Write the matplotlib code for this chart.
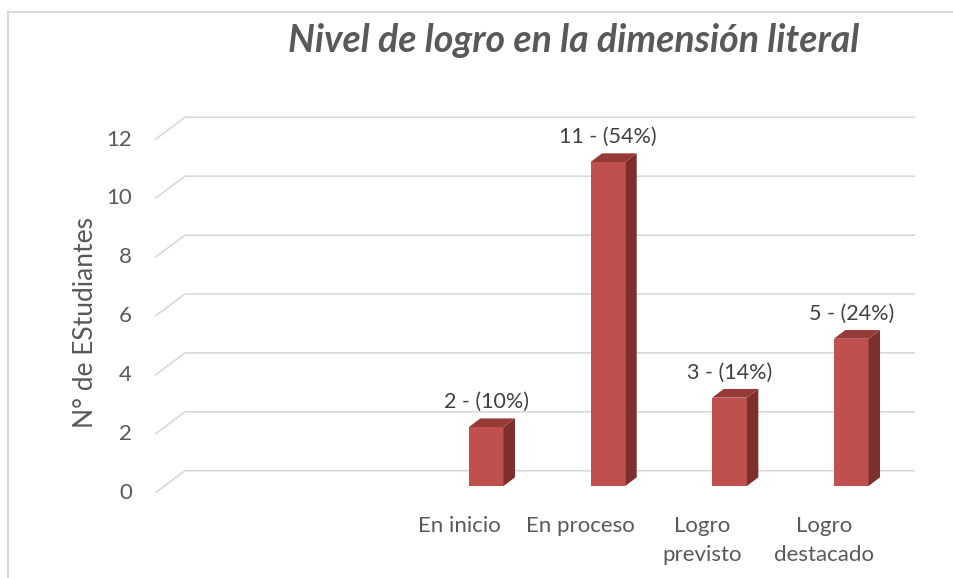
import matplotlib
matplotlib.use("Agg")
import matplotlib.pyplot as plt
from matplotlib.patches import Polygon
from matplotlib.lines import Line2D

# ---- data ----
categories = ["", "", "En inicio", "En proceso", "Logro\nprevisto", "Logro\ndestacado"]
values = [None, None, 2, 11, 3, 5]
percents = ["", "", "10%", "54%", "14%", "24%"]
yticks = [0, 2, 4, 6, 8, 10, 12]
title = "Nivel de logro en la dimensión literal"
ylabel = "N° de EStudiantes"

# ---- style ----
FONT = ["Lato", "DejaVu Sans"]
plt.rcParams['font.family'] = FONT
W, H = 954, 578
fig = plt.figure(figsize=(W / 100, H / 100), dpi=100)
fig.patch.set_facecolor("white")

n = len(categories)
wall_dx = 0.2465      # depth offset of back wall, category units
wall_dy = 0.757       # depth offset of back wall, value units
ymax = yticks[-1]

left_px, right_px, bot_px, top_px = 155, 915, 493, 117.3
ax = fig.add_axes([left_px / W, (H - bot_px) / H, (right_px - left_px) / W, (bot_px - top_px) / H])
ax.set_xlim(0, n + wall_dx)
ax.set_ylim(0, ymax + wall_dy)
ax.axis("off")

grid_c = "#d9d9d9"
for t in yticks:
    ax.plot([0, wall_dx, n + wall_dx], [t, t + wall_dy, t + wall_dy],
            color=grid_c, lw=1.2, zorder=1, clip_on=False, solid_capstyle="butt")
    ax.text(-0.189, t, str(t), ha="right", va="center", fontsize=16,
            color="#595959", clip_on=False)

# bars
front_c, side_c, top_c = "#C0504D", "#7D2F2D", "#963A38"
bw = 0.285
f_dx, f_dy = 0.0764, 0.2377   # position of front face within the floor depth
b_dx, b_dy = 0.0945, 0.295    # bar depth
shift = 0.222
for i, (v, p) in enumerate(zip(values, percents)):
    if v is None:
        continue
    xc = i + 0.5 + shift
    xl, xr = xc - bw / 2, xc + bw / 2
    y0, y1 = f_dy, v + f_dy
    ax.add_patch(Polygon([(xl, y0), (xr, y0), (xr, y1), (xl, y1)], closed=True,
                         facecolor=front_c, edgecolor="none", zorder=3))
    ax.add_patch(Polygon([(xr, y0), (xr + b_dx, y0 + b_dy), (xr + b_dx, y1 + b_dy), (xr, y1)],
                         closed=True, facecolor=side_c, edgecolor="none", zorder=3))
    ax.add_patch(Polygon([(xl, y1), (xr, y1), (xr + b_dx, y1 + b_dy), (xl + b_dx, y1 + b_dy)],
                         closed=True, facecolor=top_c, edgecolor="none", zorder=3))
    ax.text(xc, y1 + b_dy + 0.55, f"{v} - ({p})", ha="center", va="center",
            fontsize=15.5, color="#404040", zorder=4, clip_on=False)

# category labels
for i, c in enumerate(categories):
    if not c:
        continue
    ax.text(i + 0.5, -0.78, c, ha="center", va="top", fontsize=16,
            color="#595959", linespacing=1.55, clip_on=False)

fig.text(86 / W, 1 - 323 / H, ylabel, rotation=90, ha="center", va="center",
         fontsize=19, color="#595959")
fig.text(574 / W, 1 - 40 / H, title, ha="center", va="center",
         fontsize=27, color="#595959", fontweight="bold", fontstyle="italic")

# chart frame (left and top edges visible)
fig.add_artist(Line2D([8 / W, 8 / W], [0, 1 - 12 / H], transform=fig.transFigure,
                      color="#d9d9d9", lw=1.5))
fig.add_artist(Line2D([8 / W, 1], [1 - 12 / H, 1 - 12 / H], transform=fig.transFigure,
                      color="#d9d9d9", lw=1.5))

fig.savefig("out.png", dpi=100, facecolor="white")
